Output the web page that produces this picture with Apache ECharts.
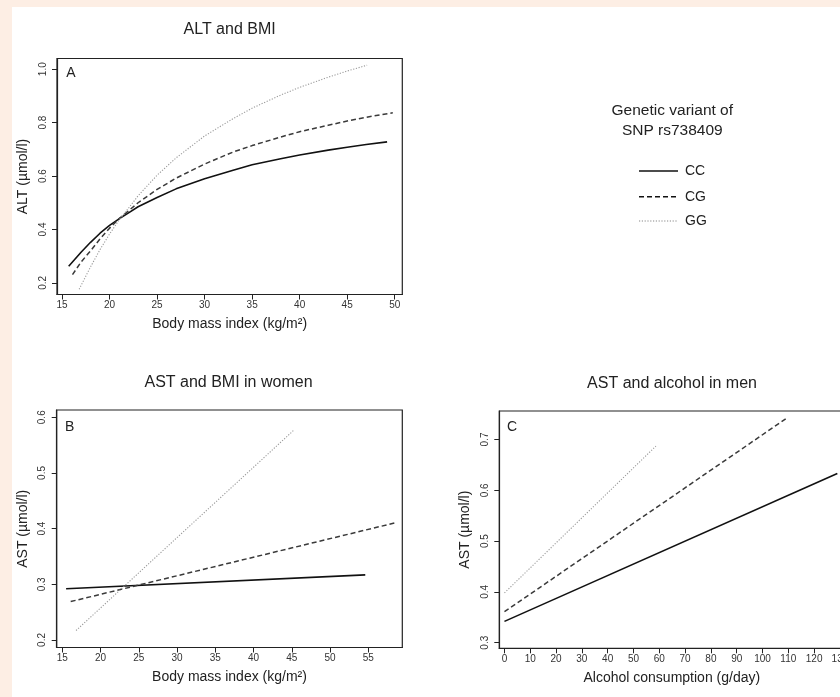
<!DOCTYPE html>
<html>
<head>
<meta charset="utf-8">
<script src="https://cdn.jsdelivr.net/npm/echarts@6/dist/echarts.min.js"></script>
<style>
html,body{margin:0;padding:0;background:#fdeee4;}
#chart{width:840px;height:697px;}
</style>
</head>
<body>
<div id="chart"></div>
<script>
// ---------- Data ----------
// Panel A: ALT and BMI  [BMI, ALT]
const altBmiCC = [[15.7,0.262],[17,0.315],[18,0.352],[19,0.386],[20,0.415],[21,0.44],[22,0.462],[23,0.485],[25,0.52],[27,0.552],[30,0.59],[33,0.622],[35,0.642],[38,0.665],[40,0.679],[43,0.697],[45,0.708],[47,0.718],[49.2,0.728]];
const altBmiCG = [[16.1,0.231],[17,0.278],[18,0.32],[19,0.365],[20,0.405],[21,0.44],[22,0.47],[23,0.5],[25,0.55],[27,0.592],[30,0.645],[33,0.69],[35,0.714],[38,0.746],[40,0.766],[43,0.79],[45,0.806],[47,0.82],[49.8,0.837]];
const altBmiGG = [[16.8,0.176],[18,0.26],[19,0.325],[20,0.383],[21,0.435],[22,0.48],[23,0.526],[25,0.603],[27,0.668],[30,0.75],[33,0.815],[35,0.854],[38,0.903],[40,0.932],[43,0.97],[45,0.993],[47.1,1.015]];
// Panel B: AST and BMI in women
const astBmiCC = [[15.5,0.292],[54.6,0.317]];
const astBmiCG = [[16.1,0.269],[58.7,0.411]];
const astBmiGG = [[16.8,0.217],[45.2,0.576]];
// Panel C: AST and alcohol in men
const astAlcCC = [[0,0.342],[129,0.633]];
const astAlcCG = [[0,0.361],[109.4,0.742]];
const astAlcGG = [[0,0.398],[58.7,0.687]];

// Tick labels
const ticksAx = [15,20,25,30,35,40,45,50];
const ticksAy = [0.2,0.4,0.6,0.8,1.0];
const ticksBx = [15,20,25,30,35,40,45,50,55];
const ticksBy = [0.2,0.3,0.4,0.5,0.6];
const ticksCx = [0,10,20,30,40,50,60,70,80,90,100,110,120,130];
const ticksCy = [0.3,0.4,0.5,0.6,0.7];

const genotypes = ['CC','CG','GG'];
const titles = ['ALT and BMI','AST and BMI in women','AST and alcohol in men'];

// ---------- Styles ----------
const FONT = '"Liberation Sans", Arial, Helvetica, sans-serif';
const TXT = '#222';
const lineStyles = {
  CC: {color:'#111', width:1.6, type:'solid'},
  CG: {color:'#3a3a3a', width:1.5, type:[5,3]},
  GG: {color:'#9a9a9a', width:1.1, type:[1.2,1.6]}
};

function xAxis(idx, min, max, ticks, name){
  return {
    type:'value', gridIndex:idx, min:min, max:max,
    name:name, nameLocation:'middle', nameGap:22.5,
    nameTextStyle:{fontFamily:FONT, fontSize:14, color:TXT},
    axisLine:{show:true, onZero:false, lineStyle:{color:'#222', width:1.2}},
    axisTick:{show:true, length:5, customValues:ticks, lineStyle:{color:'#222', width:1}},
    axisLabel:{customValues:ticks, margin:5.5, fontFamily:FONT, fontSize:10, color:'#333'},
    splitLine:{show:false}
  };
}
function yAxis(idx, min, max, ticks, name){
  return {
    type:'value', gridIndex:idx, min:min, max:max,
    name:name, nameLocation:'middle', nameGap:27,
    nameTextStyle:{fontFamily:FONT, fontSize:14, color:TXT},
    axisLine:{show:true, onZero:false, lineStyle:{color:'#222', width:1.2}},
    axisTick:{show:true, length:5, customValues:ticks, lineStyle:{color:'#222', width:1}},
    axisLabel:{customValues:ticks, rotate:90, margin:9, fontFamily:FONT, fontSize:10, color:'#333',
      formatter:function(v){return v.toFixed(1);}},
    splitLine:{show:false}
  };
}
function ser(idx, g, data){
  const ls = lineStyles[g];
  return {
    type:'line', name:g, xAxisIndex:idx, yAxisIndex:idx, data:data,
    symbol:'none', smooth:false,
    lineStyle:{color:ls.color, width:ls.width, type:ls.type, join:'round'},
    itemStyle:{color:ls.color}, z:3, silent:true, animation:false
  };
}

const grids = [
  {left:57, top:58.5, width:345.3, height:236},
  {left:56.7, top:410, width:345.6, height:237.5},
  {left:499.3, top:411, width:345, height:237.3}
];
grids.forEach(g=>{g.show=true; g.borderColor='#222'; g.borderWidth=1.2; g.backgroundColor='#fff'; g.containLabel=false; g.outerBoundsMode='none';});

function txt(x,y,text,size,align){
  return {type:'text', x:x, y:y, silent:true, z:10,
    style:{text:text, fontFamily:FONT, fontSize:size, fill:TXT, align:align||'center', verticalAlign:'middle'}};
}
function legLine(y, g){
  const ls = lineStyles[g];
  return {type:'line', silent:true, z:10,
    shape:{x1:639, y1:y, x2:678, y2:y},
    style:{stroke: g==='GG' ? '#888' : '#111', lineWidth: ls.width,
      lineDash: Array.isArray(ls.type) ? ls.type : null}};
}

const option = {
  backgroundColor:'#fdeee4',
  animation:false,
  grid:grids,
  xAxis:[
    xAxis(0, 14.47, 50.8, ticksAx, 'Body mass index (kg/m²)'),
    xAxis(1, 14.27, 59.44, ticksBx, 'Body mass index (kg/m²)'),
    xAxis(2, -2.0, 131.7, ticksCx, 'Alcohol consumption (g/day)')
  ],
  yAxis:[
    yAxis(0, 0.1566, 1.040, ticksAy, 'ALT (µmol/l)'),
    yAxis(1, 0.1865, 0.613, ticksBy, 'AST (µmol/l)'),
    yAxis(2, 0.289, 0.756, ticksCy, 'AST (µmol/l)')
  ],
  series:[
    ser(0,'CC',altBmiCC), ser(0,'CG',altBmiCG), ser(0,'GG',altBmiGG),
    ser(1,'CC',astBmiCC), ser(1,'CG',astBmiCG), ser(1,'GG',astBmiGG),
    ser(2,'CC',astAlcCC), ser(2,'CG',astAlcCG), ser(2,'GG',astAlcGG)
  ],
  graphic:[
    {type:'rect', shape:{x:12, y:7, width:828, height:690}, style:{fill:'#ffffff'}, z:-10, silent:true},
    txt(229.6, 30, titles[0], 16),
    txt(228.5, 383, titles[1], 16),
    txt(672, 383.3, titles[2], 16),
    txt(71, 73.5, 'A', 14),
    txt(69.7, 427, 'B', 14),
    txt(512, 427, 'C', 14),
    txt(672.3, 111, 'Genetic variant of', 15.5),
    txt(672.3, 130.7, 'SNP rs738409', 15.5),
    legLine(171, 'CC'), legLine(196.7, 'CG'), legLine(221, 'GG'),
    txt(685, 171, genotypes[0], 14, 'left'),
    txt(685, 196.7, genotypes[1], 14, 'left'),
    txt(685, 221, genotypes[2], 14, 'left')
  ]
};

const chart = echarts.init(document.getElementById('chart'), null, {renderer:'canvas'});
chart.setOption(option);
</script>
</body>
</html>
